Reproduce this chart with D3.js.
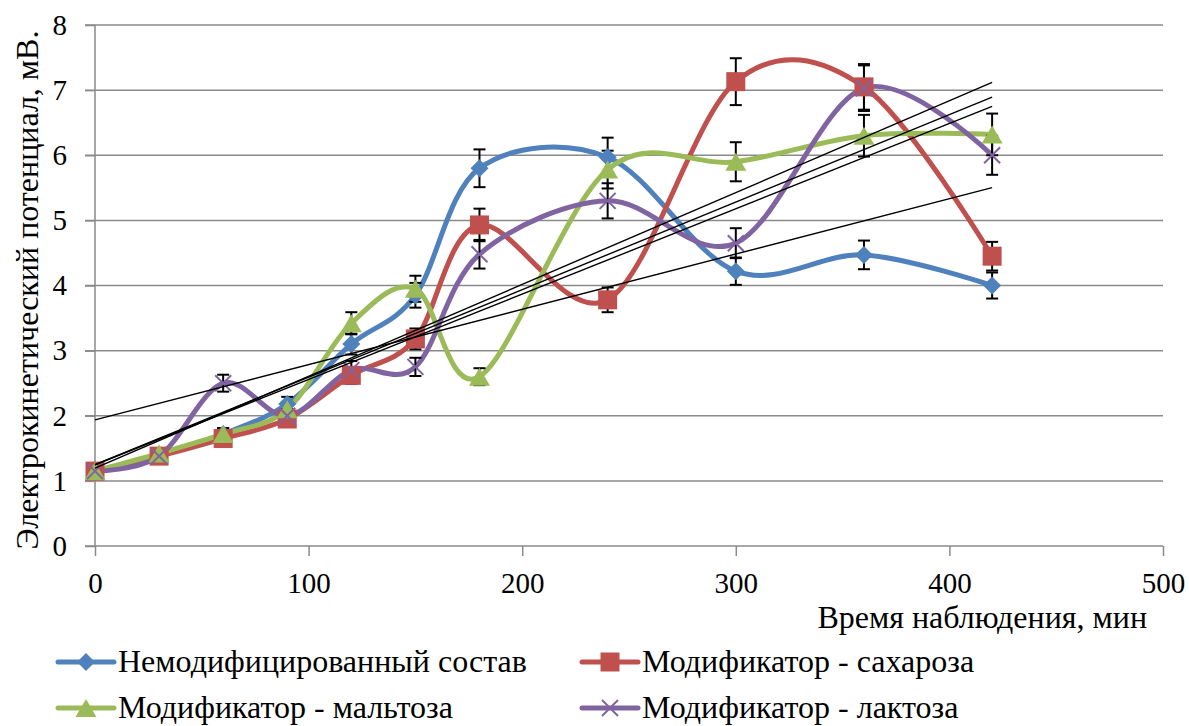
<!DOCTYPE html>
<html>
<head>
<meta charset="utf-8">
<script src="https://cdn.jsdelivr.net/npm/d3@7"></script>
<style>
  @font-face { font-family: "ChartSerif"; src: local("Liberation Serif"), local("LiberationSerif"), local("Liberation Serif Regular"), local("LiberationSerif-Regular"); }
  svg#chart, svg#chart text { font-family: "Liberation Serif", "ChartSerif" !important; }
</style>
</head>
<body style="margin:0">
<svg id="chart" width="1189" height="726" style="display:block" font-family="Liberation Serif"></svg>
<script>
// ---- data ----
const timeMin = [0, 30, 60, 90, 120, 150, 180, 240, 300, 360, 420];
const seriesNames = ["Немодифицированный состав", "Модификатор - сахароза", "Модификатор - мальтоза", "Модификатор - лактоза"];
const unmodified = [1.15, 1.40, 1.72, 2.18, 3.10, 3.85, 5.80, 5.97, 4.22, 4.47, 4.00];
const sucrose    = [1.15, 1.38, 1.65, 1.95, 2.62, 3.18, 4.93, 3.78, 7.13, 7.05, 4.45];
const maltose    = [1.15, 1.42, 1.72, 2.10, 3.42, 3.95, 2.60, 5.78, 5.90, 6.30, 6.32];
const lactose    = [1.15, 1.38, 2.50, 2.00, 2.70, 2.75, 4.48, 5.30, 4.65, 7.03, 6.00];
const errUnmodified = [0.06, 0.07, 0.09, 0.11, 0.16, 0.19, 0.29, 0.30, 0.21, 0.22, 0.20];
const errSucrose    = [0.06, 0.07, 0.08, 0.10, 0.13, 0.16, 0.25, 0.19, 0.36, 0.35, 0.22];
const errMaltose    = [0.06, 0.07, 0.09, 0.11, 0.17, 0.20, 0.13, 0.29, 0.30, 0.32, 0.32];
const errLactose    = [0.06, 0.07, 0.13, 0.10, 0.14, 0.14, 0.22, 0.27, 0.23, 0.35, 0.30];
const xTicks = [0, 100, 200, 300, 400, 500];
const yTicks = [0, 1, 2, 3, 4, 5, 6, 7, 8];
const xTitle = "Время наблюдения, мин";
const yTitle = "Электрокинетический потенциал, мВ.";

// ---- styles ----
const colors = ["#4F81BD", "#C0504D", "#9BBB59", "#8064A2"];
const markers = ["diamond", "square", "triangle", "cross"];
const values = [unmodified, sucrose, maltose, lactose];
const errors = [errUnmodified, errSucrose, errMaltose, errLactose];
const FAMILY = '"Liberation Serif", "ChartSerif"';

const svg = d3.select("#chart");
const x = d3.scaleLinear().domain([0, 500]).range([95, 1163]);
const y = d3.scaleLinear().domain([0, 8]).range([546, 25]);
const TICK_FONT = 29;
const TEXT_FONT = 32;

function styleText(sel, size) {
  return sel.attr("font-family", "Liberation Serif").attr("font-size", size).attr("fill", "#000")
    .style("font-family", FAMILY, "important")
    .style("font-size", size + "px")
    .style("fill", "#000");
}

// grid
svg.append("g").selectAll("line").data(yTicks).join("line")
  .attr("x1", 85).attr("x2", x(500))
  .attr("y1", d => y(d)).attr("y2", d => y(d))
  .attr("stroke", "#8a8a8a").attr("stroke-width", 1.5);

// y axis
const yAxis = svg.append("g").attr("transform", `translate(${x(0)},0)`)
  .call(d3.axisLeft(y).tickValues(yTicks).tickFormat(d3.format("d")).tickSize(10).tickPadding(18));
yAxis.attr("font-family", "Liberation Serif").attr("font-size", TICK_FONT);
yAxis.select(".domain").attr("stroke", "#8a8a8a").attr("stroke-width", 1.5).attr("d", `M0,${y(8)}V${y(0)}`);
yAxis.selectAll(".tick line").attr("stroke", "#8a8a8a").attr("stroke-width", 1.5);
styleText(yAxis.selectAll(".tick text"), TICK_FONT);

// x axis
const xAxis = svg.append("g").attr("transform", `translate(0,${y(0)})`)
  .call(d3.axisBottom(x).tickValues(xTicks).tickFormat(d3.format("d")).tickSize(10));
xAxis.attr("font-family", "Liberation Serif").attr("font-size", TICK_FONT);
xAxis.select(".domain").remove();
xAxis.selectAll(".tick line").attr("stroke", "#8a8a8a").attr("stroke-width", 1.5);
styleText(xAxis.selectAll(".tick text"), TICK_FONT).attr("y", 47).attr("dy", 0);

// titles
styleText(svg.append("text").attr("x", 1147).attr("y", 628).attr("text-anchor", "end").text(xTitle), TEXT_FONT);
styleText(svg.append("text").attr("transform", "translate(38,290) rotate(-90)").attr("text-anchor", "middle").text(yTitle), TEXT_FONT);

// series lines
const line = d3.line().x((d, i) => x(timeMin[i])).y(d => y(d)).curve(d3.curveCatmullRom.alpha(0));
const plot = svg.append("g");
values.forEach((vals, s) => {
  plot.append("path").attr("d", line(vals)).attr("fill", "none")
    .attr("stroke", colors[s]).attr("stroke-width", 5).attr("stroke-linejoin", "round").attr("stroke-linecap", "round");
});

// error bars
const eb = svg.append("g").attr("stroke", "#000").attr("stroke-width", 2);
values.forEach((vals, s) => {
  vals.forEach((v, i) => {
    const cx = x(timeMin[i]), e = errors[s][i];
    eb.append("line").attr("x1", cx).attr("x2", cx).attr("y1", y(v + e)).attr("y2", y(v - e));
    eb.append("line").attr("x1", cx - 6).attr("x2", cx + 6).attr("y1", y(v + e)).attr("y2", y(v + e));
    eb.append("line").attr("x1", cx - 6).attr("x2", cx + 6).attr("y1", y(v - e)).attr("y2", y(v - e));
  });
});

function drawMarker(g, type, cx, cy, color, scale) {
  const k = scale || 1;
  if (type === "diamond") {
    const r = 9 * k;
    g.append("path").attr("d", `M${cx},${cy - r}L${cx + r},${cy}L${cx},${cy + r}L${cx - r},${cy}Z`).attr("fill", color);
  } else if (type === "square") {
    const r = 9.5 * k;
    g.append("rect").attr("x", cx - r).attr("y", cy - r).attr("width", 2 * r).attr("height", 2 * r).attr("fill", color);
  } else if (type === "triangle") {
    const w = 10.5 * k, h = 9 * k;
    g.append("path").attr("d", `M${cx},${cy - h}L${cx + w},${cy + h}L${cx - w},${cy + h}Z`).attr("fill", color);
  } else {
    const r = 8 * k;
    g.append("path").attr("d", `M${cx - r},${cy - r}L${cx + r},${cy + r}M${cx - r},${cy + r}L${cx + r},${cy - r}`)
      .attr("stroke", color).attr("stroke-width", 2).attr("fill", "none");
  }
}

// markers
const mk = svg.append("g");
values.forEach((vals, s) => {
  vals.forEach((v, i) => drawMarker(mk, markers[s], x(timeMin[i]), y(v), colors[s]));
});

// linear trendlines (least squares of each series)
const tl = svg.append("g");
values.forEach((vals) => {
  const n = vals.length;
  const mx = d3.mean(timeMin), my = d3.mean(vals);
  let sxy = 0, sxx = 0;
  for (let i = 0; i < n; i++) { sxy += (timeMin[i] - mx) * (vals[i] - my); sxx += (timeMin[i] - mx) ** 2; }
  const b = sxy / sxx, a = my - b * mx;
  const x0 = timeMin[0], x1 = timeMin[n - 1];
  tl.append("line").attr("x1", x(x0)).attr("y1", y(a + b * x0)).attr("x2", x(x1)).attr("y2", y(a + b * x1))
    .attr("stroke", "#000").attr("stroke-width", 1.4);
});

// legend
const legendPos = [[58, 662], [582, 662], [58, 708], [582, 708]];
const lg = svg.append("g");
seriesNames.forEach((name, s) => {
  const [lx, ly] = legendPos[s];
  lg.append("line").attr("x1", lx).attr("x2", lx + 56).attr("y1", ly).attr("y2", ly)
    .attr("stroke", colors[s]).attr("stroke-width", 5).attr("stroke-linecap", "round");
  drawMarker(lg, markers[s], lx + 28, ly, colors[s], 1);
  styleText(lg.append("text").attr("x", lx + 60).attr("y", ly + 10).text(name), TEXT_FONT);
});

// re-apply the serif face in case anything resets it later
function reapply() {
  svg.selectAll("text").style("font-family", FAMILY, "important");
}
setTimeout(reapply, 50);
setTimeout(reapply, 300);
</script>
</body>
</html>
